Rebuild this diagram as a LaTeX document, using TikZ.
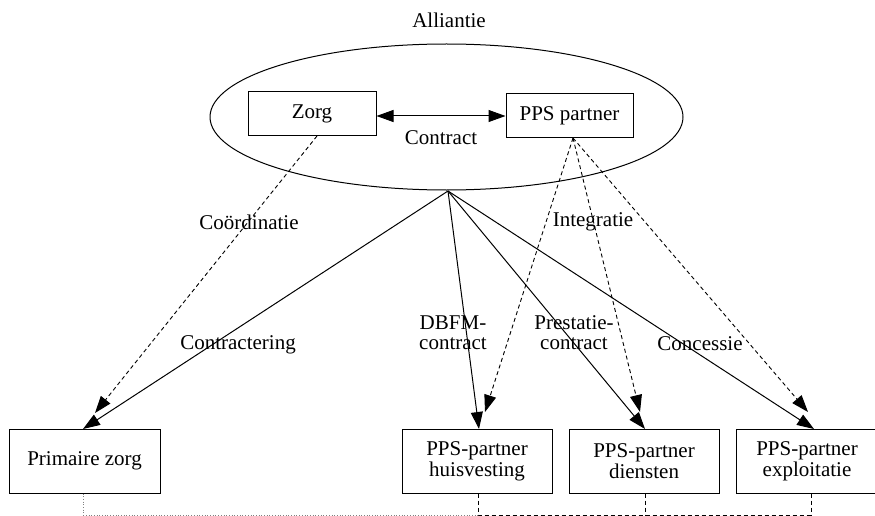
\documentclass[tikz,border=0pt]{standalone}
\usepackage{fontspec}
\setmainfont{Liberation Serif}
\usetikzlibrary{arrows.meta}
\begin{document}
\begin{tikzpicture}[x=1pt,y=-1pt,
  every node/.style={font=\fontsize{21}{23}\selectfont},
  box/.style={draw,line width=1pt,inner sep=0pt,align=center},
  lbl/.style={inner sep=0pt,align=center},
  tip/.style={-{Triangle[length=17pt,width=12pt]}},
  solidedge/.style={tip,line width=1pt},
  dashedge/.style={tip,line width=0.9pt,dash pattern=on 4pt off 3pt},
  dashline/.style={line width=0.9pt,dash pattern=on 4pt off 3pt},
  dotline/.style={line width=0.7pt,dotted,gray}]
\useasboundingbox (0,0) rectangle (875,516);
% title and ellipse
\node[lbl] (title) at (449,20) {Alliantie};
\draw[line width=1pt] (446.5,117) ellipse [x radius=236.5,y radius=73];
\coordinate (ell) at (448,191);
% top boxes
\node[box,minimum width=128pt,minimum height=44pt] (zorg) at (312,114) {Zorg};
\node[box,minimum width=127pt,minimum height=44pt] (pps) at (569.5,116) {PPS partner};
\draw[{Triangle[length=17pt,width=12pt]}-{Triangle[length=17pt,width=12pt]},line width=1pt] (zorg.east |- 0,116) -- (pps.west |- 0,116);
\node[lbl] (contract) at (441,138) {Contract};
% bottom boxes
\node[box,minimum width=151pt,minimum height=64pt] (prim) at (84.5,461) {Primaire zorg};
\node[box,minimum width=150pt,minimum height=64pt] (huis) at (477,461) {PPS-partner\\[-2pt]huisvesting};
\node[box,minimum width=150pt,minimum height=64pt] (dien) at (644,461) {PPS-partner\\[-2pt]diensten};
\node[box,minimum width=142pt,minimum height=64pt] (expl) at (807,461) {PPS-partner\\[-2pt]exploitatie};
% end points
\coordinate (zorgb) at (317,136);
\coordinate (ppsb) at (573,138);
\coordinate (primt) at (83,429);
\coordinate (primd) at (95,413);
\coordinate (huist) at (479,429);
\coordinate (huisd) at (485,412);
\coordinate (dient) at (645,429);
\coordinate (diend) at (640,412);
\coordinate (explt) at (814,429);
\coordinate (expld) at (808,412);
% solid contract edges
\draw[solidedge] (ell) -- (primt);
\draw[solidedge] (ell) -- (huist);
\draw[solidedge] (ell) -- (dient);
\draw[solidedge] (ell) -- (explt);
% dashed edges
\draw[dashedge] (zorgb) -- (primd);
\draw[dashedge] (ppsb) -- (huisd);
\draw[dashedge] (ppsb) -- (diend);
\draw[dashedge] (ppsb) -- (expld);
% labels
\node[lbl] (coord) at (249,222) {Coördinatie};
\node[lbl] (contr) at (238,345) {Contractering};
\node[lbl] (integ) at (593,222) {Integratie};
\node[lbl] (dbfm) at (453,333) {DBFM-\\[-3pt]contract};
\node[lbl] (prest) at (574,333) {Prestatie-\\[-3pt]contract};
\node[lbl] (conc) at (700,344) {Concessie};
% bottom connectors
\coordinate (bprim) at (83,515);
\coordinate (bhuis) at (478,515);
\coordinate (bdien) at (645,515);
\coordinate (bexpl) at (811,515);
\draw[dotline] (prim.south -| bprim) -- (bprim) -- (bhuis);
\draw[dashline] (huis.south -| bhuis) -- (bhuis) -- (bexpl);
\draw[dashline] (dien.south -| bdien) -- (bdien);
\draw[dashline] (expl.south -| bexpl) -- (bexpl);
\end{tikzpicture}
\end{document}
